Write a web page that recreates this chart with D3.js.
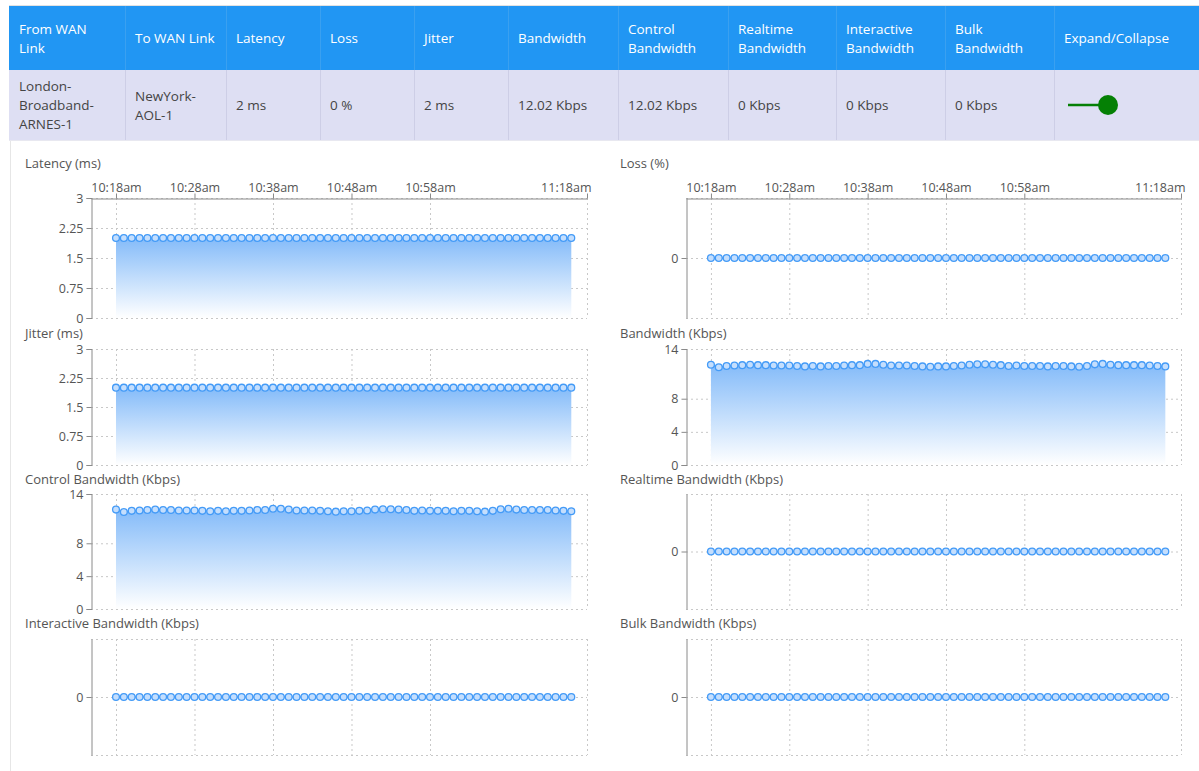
<!DOCTYPE html>
<html>
<head>
<meta charset="utf-8">
<script src="https://cdn.jsdelivr.net/npm/d3@7"></script>
<style>
  body { margin: 0; background: #fff; font-family: "Open Sans", sans-serif; }
  svg { display: block; }
  .axis path, .axis line { stroke: #8a8a8a; }
  .axis text { fill: #555; font-size: 12.5px; font-family: "Open Sans", sans-serif; }
  .grid line { stroke: #c8c8c8; stroke-dasharray: 2,3; }
  .title { fill: #555; font-size: 13px; }
</style>
</head>
<body>
<svg width="1199" height="771"></svg>
<script>
// Table content
var headerLines = [
  ["From WAN", "Link"], ["To WAN Link"], ["Latency"], ["Loss"], ["Jitter"], ["Bandwidth"],
  ["Control", "Bandwidth"], ["Realtime", "Bandwidth"], ["Interactive", "Bandwidth"],
  ["Bulk", "Bandwidth"], ["Expand/Collapse"]
];
var rowLines = [
  ["London-", "Broadband-", "ARNES-1"], ["NewYork-", "AOL-1"], ["2 ms"], ["0 %"], ["2 ms"],
  ["12.02 Kbps"], ["12.02 Kbps"], ["0 Kbps"], ["0 Kbps"], ["0 Kbps"], []
];

// Time axis
var firstSample = "10:18", lastSample = "11:16";
var tickTimes = ["10:18", "10:28", "10:38", "10:48", "10:58", "11:18"];
var tickLabels = ["10:18am", "10:28am", "10:38am", "10:48am", "10:58am", "11:18am"];

// Series values, one per minute
var latencyMs = [2,2,2,2,2,2,2,2,2,2, 2,2,2,2,2,2,2,2,2,2, 2,2,2,2,2,2,2,2,2,2,
                 2,2,2,2,2,2,2,2,2,2, 2,2,2,2,2,2,2,2,2,2, 2,2,2,2,2,2,2,2,2];
var jitterMs  = [2,2,2,2,2,2,2,2,2,2, 2,2,2,2,2,2,2,2,2,2, 2,2,2,2,2,2,2,2,2,2,
                 2,2,2,2,2,2,2,2,2,2, 2,2,2,2,2,2,2,2,2,2, 2,2,2,2,2,2,2,2,2];
var lossPct   = [0,0,0,0,0,0,0,0,0,0, 0,0,0,0,0,0,0,0,0,0, 0,0,0,0,0,0,0,0,0,0,
                 0,0,0,0,0,0,0,0,0,0, 0,0,0,0,0,0,0,0,0,0, 0,0,0,0,0,0,0,0,0];
var bandwidthKbps = [12.1,11.8,11.95,12.0,12.05,12.1,12.05,12.05,12.0,12.0,
                     12.0,11.95,11.9,11.95,11.9,11.95,11.95,12.0,12.05,12.05,
                     12.2,12.2,12.1,12.0,12.0,12.0,11.95,11.9,11.85,11.9,
                     11.9,11.95,12.0,12.1,12.15,12.15,12.1,12.05,11.95,12.0,
                     11.95,11.95,11.95,11.9,11.95,11.95,11.9,11.85,11.95,12.15,
                     12.2,12.1,12.05,12.05,12.05,12.05,12.0,11.95,11.9];
var controlKbps   = [12.1,11.8,11.95,12.0,12.05,12.1,12.05,12.05,12.0,12.0,
                     12.0,11.95,11.9,11.95,11.9,11.95,11.95,12.0,12.05,12.05,
                     12.2,12.2,12.1,12.0,12.0,12.0,11.95,11.9,11.85,11.9,
                     11.9,11.95,12.0,12.1,12.15,12.15,12.1,12.05,11.95,12.0,
                     11.95,11.95,11.95,11.9,11.95,11.95,11.9,11.85,11.95,12.15,
                     12.2,12.1,12.05,12.05,12.05,12.05,12.0,11.95,11.9];
var realtimeKbps    = [0,0,0,0,0,0,0,0,0,0, 0,0,0,0,0,0,0,0,0,0, 0,0,0,0,0,0,0,0,0,0,
                       0,0,0,0,0,0,0,0,0,0, 0,0,0,0,0,0,0,0,0,0, 0,0,0,0,0,0,0,0,0];
var interactiveKbps = [0,0,0,0,0,0,0,0,0,0, 0,0,0,0,0,0,0,0,0,0, 0,0,0,0,0,0,0,0,0,0,
                       0,0,0,0,0,0,0,0,0,0, 0,0,0,0,0,0,0,0,0,0, 0,0,0,0,0,0,0,0,0];
var bulkKbps        = [0,0,0,0,0,0,0,0,0,0, 0,0,0,0,0,0,0,0,0,0, 0,0,0,0,0,0,0,0,0,0,
                       0,0,0,0,0,0,0,0,0,0, 0,0,0,0,0,0,0,0,0,0, 0,0,0,0,0,0,0,0,0];

// Y tick sets
var msTicks = [0, 0.75, 1.5, 2.25, 3];
var kbpsTicks = [0, 4, 8, 14];
var zeroTicks = [0];

var svg = d3.select("svg");
var parseTime = d3.timeParse("%H:%M");
var times = d3.timeMinute.range(parseTime(firstSample), d3.timeMinute.offset(parseTime(lastSample), 1));

// ---------- table ----------
var colEdges = [9, 125, 226, 320, 414, 508, 618, 728, 836, 945, 1054, 1199];
var table = svg.append("g").attr("class", "table");

table.append("line").attr("x1", 9).attr("x2", 1199).attr("y1", 5.5).attr("y2", 5.5)
  .attr("stroke", "#e2e2e2");
table.append("rect").attr("x", 9).attr("y", 6).attr("width", 1190).attr("height", 64).attr("fill", "#2196f3");
table.append("rect").attr("x", 9).attr("y", 70).attr("width", 1190).attr("height", 70).attr("fill", "#dedff3");
table.append("line").attr("x1", 9).attr("x2", 1199).attr("y1", 140.5).attr("y2", 140.5).attr("stroke", "#e8e8f0");

colEdges.slice(1, -1).forEach(function(x) {
  table.append("line").attr("x1", x + 0.5).attr("x2", x + 0.5).attr("y1", 6).attr("y2", 70).attr("stroke", "#3aa0f0");
  table.append("line").attr("x1", x + 0.5).attr("x2", x + 0.5).attr("y1", 70).attr("y2", 140).attr("stroke", "#cdcee6");
});

function cellText(lines, i, centerY, color) {
  var n = lines.length;
  var t = table.append("text")
    .attr("x", colEdges[i] + 10)
    .attr("fill", color)
    .style("font-size", "13.5px");
  lines.forEach(function(s, k) {
    t.append("tspan")
      .attr("x", colEdges[i] + 10)
      .attr("y", centerY + 5 + (k - (n - 1) / 2) * 19)
      .text(s);
  });
}
headerLines.forEach(function(l, i) { cellText(l, i, 38, "#fff"); });
rowLines.forEach(function(l, i) { cellText(l, i, 105, "#444"); });

// expand/collapse toggle
table.append("line").attr("x1", 1068).attr("x2", 1102).attr("y1", 105).attr("y2", 105)
  .attr("stroke", "#058005").attr("stroke-width", 2.5);
table.append("circle").attr("cx", 1108).attr("cy", 105).attr("r", 10).attr("fill", "#058005");

// ---------- charts ----------
svg.append("line").attr("x1", 10.5).attr("x2", 10.5).attr("y1", 141).attr("y2", 771).attr("stroke", "#e6e6e6");

var defs = svg.append("defs");
var grad = defs.append("linearGradient").attr("id", "fillGrad")
  .attr("x1", 0).attr("y1", 0).attr("x2", 0).attr("y2", 1);
grad.append("stop").attr("offset", "0%").attr("stop-color", "#84bbf9");
grad.append("stop").attr("offset", "100%").attr("stop-color", "#ffffff");

var rows = [
  {title: 168, top: 198, h: 120},
  {title: 338, top: 349, h: 116},
  {title: 484, top: 494, h: 115},
  {title: 628, top: 639, h: 116}
];
var cols = [
  {titleX: 25, x0: 91, w: 496},
  {titleX: 620, x0: 686, w: 495}
];

var charts = [
  {title: "Latency (ms)", values: latencyMs, domain: [0, 3], ticks: msTicks, row: 0, col: 0},
  {title: "Loss (%)", values: lossPct, domain: [-1, 1], ticks: zeroTicks, row: 0, col: 1},
  {title: "Jitter (ms)", values: jitterMs, domain: [0, 3], ticks: msTicks, row: 1, col: 0},
  {title: "Bandwidth (Kbps)", values: bandwidthKbps, domain: [0, 14], ticks: kbpsTicks, row: 1, col: 1},
  {title: "Control Bandwidth (Kbps)", values: controlKbps, domain: [0, 14], ticks: kbpsTicks, row: 2, col: 0},
  {title: "Realtime Bandwidth (Kbps)", values: realtimeKbps, domain: [-1, 1], ticks: zeroTicks, row: 2, col: 1},
  {title: "Interactive Bandwidth (Kbps)", values: interactiveKbps, domain: [-1, 1], ticks: zeroTicks, row: 3, col: 0},
  {title: "Bulk Bandwidth (Kbps)", values: bulkKbps, domain: [-1, 1], ticks: zeroTicks, row: 3, col: 1}
];

var xDomain = [new Date(parseTime("10:14").getTime() + 49000), parseTime("11:18")];

charts.forEach(function(c) {
  var r = rows[c.row], k = cols[c.col];
  var x = d3.scaleTime().domain(xDomain).range([0, k.w]);
  var y = d3.scaleLinear().domain(c.domain).range([r.h, 0]);
  var data = times.map(function(t, i) { return {t: t, v: c.values[i]}; });
  var tickDates = tickTimes.map(parseTime);

  svg.append("text").attr("class", "title").attr("x", k.titleX).attr("y", r.title).text(c.title);

  var g = svg.append("g").attr("transform", "translate(" + k.x0 + "," + r.top + ")");

  // dotted grid + frame
  var grid = g.append("g").attr("class", "grid");
  grid.selectAll(".vx").data(tickDates.concat([xDomain[1]])).enter().append("line")
    .attr("x1", function(d) { return x(d) + 0.5; }).attr("x2", function(d) { return x(d) + 0.5; })
    .attr("y1", 0).attr("y2", r.h);
  var hVals = c.ticks.concat(c.domain);
  grid.selectAll(".hy").data(hVals).enter().append("line")
    .attr("x1", 0).attr("x2", k.w)
    .attr("y1", function(d) { return y(d) + 0.5; }).attr("y2", function(d) { return y(d) + 0.5; });

  // area + line + points
  var area = d3.area().x(function(d) { return x(d.t); }).y0(y(0)).y1(function(d) { return y(d.v); });
  var line = d3.line().x(function(d) { return x(d.t); }).y(function(d) { return y(d.v); });
  g.append("path").datum(data).attr("d", area).attr("fill", "url(#fillGrad)");
  g.append("path").datum(data).attr("d", line).attr("fill", "none")
    .attr("stroke", "#4a9ef7").attr("stroke-width", 1.5);
  g.selectAll(".pt").data(data).enter().append("circle")
    .attr("cx", function(d) { return x(d.t); })
    .attr("cy", function(d) { return y(d.v); })
    .attr("r", 3.4)
    .attr("fill", "#c4defd")
    .attr("stroke", "#449bf7")
    .attr("stroke-width", 1.3);

  // y axis
  g.append("g").attr("class", "axis")
    .attr("transform", "translate(0.5,0)")
    .call(d3.axisLeft(y).tickValues(c.ticks).tickSize(5).tickSizeOuter(c.ticks.length > 1 ? 5 : 0)
      .tickFormat(d3.format("")).tickPadding(3));

  // time axis on first row only
  if (c.row === 0) {
    var ax = g.append("g").attr("class", "axis")
      .attr("transform", "translate(0,0.5)")
      .call(d3.axisTop(x).tickValues(tickDates).tickSize(5).tickSizeOuter(0).tickPadding(2)
        .tickFormat(function(d, i) { return tickLabels[i]; }));
    // last label sits flush with the right edge
    ax.selectAll(".tick text").filter(function(d, i) { return i === tickDates.length - 1; })
      .attr("text-anchor", "end").attr("dx", "4");
  }
});
</script>
</body>
</html>
